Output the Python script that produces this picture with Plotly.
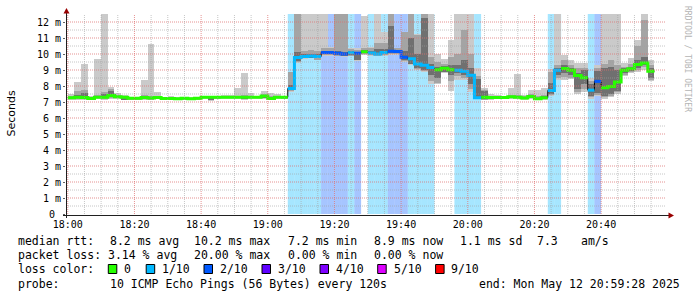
import plotly.graph_objects as go
import pandas as pd

# ---------------- data ----------------
start_time = "2025-05-12 18:00:00"
step_minutes = 2
range_start = "2025-05-12 17:59:28"
range_end = "2025-05-12 20:59:28"

median_ms = [7.27, 7.30, 7.28, 7.22, 7.30, 7.30, 7.40, 7.33, 7.30, 7.24,
             7.23, 7.28, 7.25, 7.28, 7.22, 7.22, 7.20, 7.24, 7.20, 7.24,
             7.30, 7.30, 7.30, 7.30, 7.30, 7.30, 7.30, 7.30, 7.30, 7.37,
             7.22, 7.30, 7.30, 7.85, 9.78, 9.85, 9.88, 9.84, 10.09, 10.10,
             10.05, 10.00, 10.08, 10.05, 10.14, 10.07, 10.00, 10.10, 10.17, 10.15,
             9.80, 9.70, 9.38, 9.30, 9.15, 9.02, 9.11, 9.02, 8.98, 8.92,
             8.67, 7.27, 7.30, 7.28, 7.28, 7.28, 7.33, 7.30, 7.25, 7.35,
             7.20, 7.27, 7.72, 8.98, 9.10, 8.98, 8.66, 8.52, 7.74, 8.29,
             7.89, 7.97, 8.25, 8.98, 9.08, 9.34, 9.43, 8.92, None, None]

loss_count = [0] * 33 + [1, 1, 1, 1, 1, 2, 2, 2, 2, 1, 2, 0, 1, 1, 1, 2, 2, 2,
                         1, 1, 1, 1, 0, 0, 0, 1, 1, 1, 1] + [0] * 10 + \
             [1, 1, 0, 0, 0, 0, 1, 2] + [0] * 10

# smoke bands (ms): outer (min..max), second, inner
smoke1_lo = [7.15, 7.15, 7.15, 7.10, 7.18, 7.15, 7.20, 7.20, 7.10, 7.15,
             7.14, 7.15, 7.10, 7.20, 7.14, 7.14, 7.13, 7.15, 7.12, 7.15,
             7.20, 7.08, 7.20, 7.20, 7.20, 7.20, 7.15, 7.20, 7.20, 7.20,
             7.12, 7.20, 7.20, 7.62, 9.45, 9.70, 9.72, 9.60, 9.90, 9.90,
             9.85, 9.80, 9.85, 9.55, 9.95, 9.90, 9.85, 9.90, 9.95, 9.95,
             9.50, 9.30, 9.00, 8.90, 8.10, 8.10, 8.80, 7.70, 8.40, 8.40,
             7.60, 7.20, 7.10, 7.15, 7.20, 7.20, 7.20, 7.20, 7.15, 7.20,
             7.10, 7.15, 7.40, 8.40, 8.40, 8.45, 7.50, 7.60, 7.20, 7.40,
             7.20, 7.30, 7.50, 8.60, 8.80, 8.90, 9.00, 8.30, None, None]
smoke1_hi = [7.49, 8.26, 9.36, 7.40, 9.67, 13.5, 7.95, 7.55, 7.42, 7.34,
             7.32, 8.38, 10.60, 7.63, 7.30, 7.38, 7.30, 7.32, 7.30, 7.32,
             7.40, 7.36, 7.36, 7.42, 7.42, 7.87, 8.80, 7.55, 7.40, 7.68,
             7.55, 7.50, 7.38, 8.90, 13.5, 13.5, 13.5, 13.5, 13.5, 10.45,
             13.5, 13.5, 10.40, 10.35, 12.40, 10.45, 13.5, 11.40, 13.5, 10.40,
             11.40, 13.5, 11.27, 13.5, 13.5, 9.98, 9.70, 10.90, 13.5, 13.5,
             13.5, 9.10, 7.85, 7.50, 7.45, 7.40, 7.90, 8.74, 7.45, 7.74,
             7.74, 7.90, 9.05, 13.5, 9.92, 9.64, 9.43, 9.45, 8.50, 9.30,
             13.5, 13.5, 13.5, 9.45, 9.75, 10.85, 13.5, 9.60, None, None]
smoke2_lo = [7.20, 7.20, 7.18, 7.14, 7.22, 7.20, 7.25, 7.24, 7.12, 7.18,
             7.17, 7.20, 7.14, 7.22, 7.17, 7.17, 7.15, 7.18, 7.15, 7.18,
             7.22, 7.10, 7.22, 7.22, 7.22, 7.23, 7.20, 7.22, 7.22, 7.24,
             7.15, 7.22, 7.22, 7.66, 9.50, 9.72, 9.75, 9.65, 9.95, 9.95,
             9.90, 9.85, 9.90, 9.60, 10.00, 9.95, 9.90, 9.95, 10.00, 10.00,
             9.55, 9.35, 9.05, 8.95, 8.30, 8.20, 8.85, 8.30, 8.60, 8.50,
             7.80, 7.22, 7.15, 7.20, 7.22, 7.22, 7.24, 7.24, 7.18, 7.25,
             7.14, 7.20, 7.45, 8.50, 8.55, 8.50, 7.60, 7.80, 7.30, 7.45,
             7.30, 7.40, 7.60, 8.70, 8.88, 9.00, 9.20, 8.40, None, None]
smoke2_hi = [7.38, 7.70, 7.76, 7.34, 7.42, 7.62, 7.80, 7.45, 7.36, 7.30,
             7.29, 7.42, 7.36, 7.40, 7.27, 7.30, 7.27, 7.29, 7.26, 7.29,
             7.35, 7.34, 7.34, 7.36, 7.36, 7.40, 7.45, 7.38, 7.35, 7.52,
             7.35, 7.38, 7.34, 8.85, 13.5, 10.20, 10.25, 10.20, 10.38, 10.35,
             13.5, 13.5, 10.30, 10.25, 10.40, 10.35, 10.70, 10.70, 13.5, 10.35,
             11.40, 13.5, 11.20, 13.5, 9.80, 9.50, 9.40, 9.80, 10.00, 11.50,
             10.00, 8.60, 7.75, 7.40, 7.38, 7.36, 7.45, 7.45, 7.35, 7.50,
             7.40, 7.45, 8.90, 9.30, 9.60, 9.30, 9.10, 9.10, 8.30, 9.10,
             9.40, 9.60, 9.30, 9.20, 9.40, 10.47, 12.10, 9.30, None, None]
smoke3_lo = [7.23, 7.24, 7.22, 7.18, 7.25, 7.24, 7.30, 7.28, 7.14, 7.20,
             7.19, 7.23, 7.17, 7.25, 7.19, 7.19, 7.17, 7.20, 7.17, 7.20,
             7.25, 7.12, 7.25, 7.25, 7.25, 7.25, 7.24, 7.25, 7.25, 7.28,
             7.18, 7.25, 7.25, 7.72, 9.55, 9.76, 9.78, 9.72, 10.00, 10.00,
             9.95, 9.90, 9.95, 9.65, 10.05, 10.00, 9.95, 10.00, 10.05, 10.05,
             9.62, 9.40, 9.10, 9.00, 8.70, 8.50, 8.90, 8.70, 8.80, 8.70,
             8.10, 7.25, 7.20, 7.23, 7.24, 7.24, 7.27, 7.26, 7.20, 7.28,
             7.16, 7.22, 7.50, 8.70, 8.80, 8.70, 7.80, 8.10, 7.40, 7.55,
             7.35, 7.50, 7.70, 8.80, 8.95, 9.10, 9.30, 8.50, None, None]
smoke3_hi = [7.32, 7.42, 7.55, 7.30, 7.35, 7.48, 7.68, 7.38, 7.33, 7.28,
             7.27, 7.33, 7.30, 7.33, 7.26, 7.27, 7.24, 7.27, 7.24, 7.27,
             7.33, 7.33, 7.33, 7.33, 7.33, 7.34, 7.36, 7.33, 7.33, 7.42,
             7.28, 7.33, 7.32, 8.05, 10.15, 10.00, 10.02, 10.00, 10.20, 10.20,
             10.20, 10.15, 10.20, 10.15, 10.25, 10.20, 10.30, 10.30, 11.77, 10.25,
             10.20, 11.00, 10.00, 12.25, 9.40, 9.20, 9.25, 9.30, 9.30, 9.60,
             9.10, 8.45, 7.70, 7.33, 7.33, 7.33, 7.38, 7.36, 7.30, 7.42,
             7.28, 7.35, 8.20, 9.15, 9.30, 9.10, 8.80, 9.00, 8.15, 8.95,
             9.10, 9.20, 9.00, 9.10, 9.20, 9.60, 9.80, 9.10, None, None]

x_tick_labels = ["18:00", "18:20", "18:40", "19:00", "19:20", "19:40", "20:00", "20:20", "20:40"]
y_tick_values = list(range(13))
y_tick_labels = ["0\u00a0"] + ["%d m" % v for v in range(1, 13)]

loss_levels = [0, 1, 2, 3, 4, 5, 9]
loss_labels = ["0", "1/10", "2/10", "3/10", "4/10", "5/10", "9/10"]
loss_colors = ["#26ff00", "#00b8ff", "#0059ff", "#5e00ff", "#7e00ff", "#dd00ff", "#ff0000"]

legend_rows = [
    [("median rtt:", 16), ("8.2 ms avg", 107.5), ("10.2 ms max", 192.4), ("7.2 ms min", 285.5),
     ("8.9 ms now", 371.9), ("1.1 ms sd", 458), ("7.3", 535), ("am/s", 578.6)],
    [("packet loss:", 16), ("3.14 % avg", 106.4), ("20.00 % max", 192.4), ("0.00 % min", 286),
     ("0.00 % now", 372)],
]
probe_text = "10 ICMP Echo Pings (56 Bytes) every 120s"
end_text = "end: Mon May 12 20:59:28 2025"

# ---------------- geometry helpers ----------------
W, H = 697, 297
ML, MR, MT, MB = 66, 31, 14, 83
PW, PH = W - ML - MR, H - MT - MB


def px(x):
    return (x - ML) / PW


def py(y):
    return (MT + PH - y) / PH


# time axis in minutes relative to start_time
t0 = pd.Timestamp(start_time)


def minutes(ts):
    return (pd.Timestamp(ts) - t0).total_seconds() / 60.0


n = len(median_ms)
bin_start = [step_minutes * i for i in range(n)]
bin_end = [s + step_minutes for s in bin_start]
bin_mid = [s + step_minutes / 2 for s in bin_start]
x_lo, x_hi = minutes(range_start), minutes(range_end)
x_tick_vals = [minutes(start_time[:11] + lab) for lab in x_tick_labels]

fig = go.Figure()


def add_band(lo, hi, color):
    xs, bases, heights = [], [], []
    for i in range(n):
        if lo[i] is None or hi[i] is None:
            continue
        xs.append(bin_mid[i])
        bases.append(lo[i])
        heights.append(hi[i] - lo[i])
    fig.add_trace(go.Bar(x=xs, y=heights, base=bases, width=step_minutes,
                         marker=dict(color=color, line=dict(width=0)),
                         showlegend=False, hoverinfo="skip"))


add_band(smoke1_lo, smoke1_hi, "#cacaca")
add_band(smoke2_lo, smoke2_hi, "#a4a4a4")
add_band(smoke3_lo, smoke3_hi, "#707070")


def step_xy(mask):
    xs, ys = [], []
    prev = False
    for i in range(n):
        ok = mask[i] and median_ms[i] is not None
        if ok:
            xs.append(bin_start[i]); ys.append(median_ms[i])
        elif prev:
            xs.append(bin_end[i - 1]); ys.append(median_ms[i - 1])
            xs.append(None); ys.append(None)
        prev = ok
    if prev:
        xs.append(bin_end[n - 1]); ys.append(median_ms[n - 1])
    return xs, ys


mx, my = step_xy([True] * n)
fig.add_trace(go.Scatter(x=mx, y=my, mode="lines", line=dict(color="#000000", width=1, shape="hv"),
                         showlegend=False, hoverinfo="skip"))

for lvl, col in zip(loss_levels, loss_colors):
    mask = [c == lvl for c in loss_count]
    if not any(mask):
        continue
    xs, ys = step_xy(mask)
    fig.add_trace(go.Scatter(x=xs, y=ys, mode="lines", line=dict(color=col, width=3, shape="hv"),
                             showlegend=False, hoverinfo="skip"))

shapes = []


def rgba(hexcol, a):
    h = hexcol.lstrip("#")
    return "rgba(%d,%d,%d,%.2f)" % (int(h[0:2], 16), int(h[2:4], 16), int(h[4:6], 16), a)


# loss background bands
for i in range(n):
    if loss_count[i] > 0 and median_ms[i] is not None:
        col = loss_colors[loss_levels.index(loss_count[i])]
        shapes.append(dict(type="rect", xref="x", yref="paper", x0=bin_start[i], x1=bin_end[i],
                           y0=0, y1=1, fillcolor=rgba(col, 0.35), line=dict(width=0), layer="below"))

# grid (drawn above, like rrdtool)
MAJ = "rgba(220,110,110,0.75)"
MIN = "rgba(160,160,160,0.6)"
for k in range(1, 25):
    v = k * 0.5
    shapes.append(dict(type="line", xref="paper", yref="y", x0=0, x1=1, y0=v, y1=v,
                       line=dict(color=MAJ if k % 2 == 0 else MIN, width=1, dash="1px,1px"),
                       layer="above"))
gm = 0
while gm <= x_hi:
    major = gm % 20 == 0
    shapes.append(dict(type="line", xref="x", yref="paper", x0=gm, x1=gm, y0=0, y1=1,
                       line=dict(color=MAJ if major else MIN, width=1, dash="1px,1px"),
                       layer="above"))
    gm += 5

# axis lines & arrows
AX = "#202020"
ARR = "#990000"
shapes.append(dict(type="line", xref="paper", yref="paper", x0=px(63), x1=px(669), y0=py(215.5), y1=py(215.5),
                   line=dict(color=AX, width=1), layer="above"))
shapes.append(dict(type="line", xref="paper", yref="paper", x0=px(66.5), x1=px(66.5), y0=py(218), y1=py(12),
                   line=dict(color=AX, width=1), layer="above"))
shapes.append(dict(type="path", xref="paper", yref="paper",
                   path="M %f %f L %f %f L %f %f Z" % (px(668.5), py(212.5), px(674), py(215.5), px(668.5), py(218.5)),
                   fillcolor=ARR, line=dict(color=ARR, width=0), layer="above"))
shapes.append(dict(type="path", xref="paper", yref="paper",
                   path="M %f %f L %f %f L %f %f Z" % (px(63.5), py(13.5), px(66.5), py(8), px(69.5), py(13.5)),
                   fillcolor=ARR, line=dict(color=ARR, width=0), layer="above"))

annotations = []
MONO = "DejaVu Sans Mono"
LF = dict(family=MONO, size=11.5, color="#000000")


def ann(text, x, y, xanchor="left", **kw):
    d = dict(text=text, xref="paper", yref="paper", x=px(x), y=py(y), xanchor=xanchor, yanchor="middle",
             showarrow=False, font=kw.pop("font", LF))
    d.update(kw)
    annotations.append(d)


row_y = [241, 255, 269, 284]
for r, items in enumerate(legend_rows):
    for text, x in items:
        ann(text, x, row_y[r])
ann("loss color:", 16, row_y[2])
sw_x = [108.3, 146.2, 204, 262, 320, 377.7, 435.6]
lb_x = [122, 160, 218, 276, 334, 391.5, 449.4]
for lab, col, sx, lx in zip(loss_labels, loss_colors, sw_x, lb_x):
    shapes.append(dict(type="rect", xref="paper", yref="paper", x0=px(sx), x1=px(sx + 8.5),
                       y0=py(row_y[2] + 4.5), y1=py(row_y[2] - 4.5), fillcolor=col,
                       line=dict(color="#000000", width=1), layer="above"))
    ann(lab, lx, row_y[2])
ann("probe:", 16, row_y[3])
ann(probe_text, 108, row_y[3])
ann(end_text, 681.5, row_y[3], xanchor="right")

ann("Seconds", 11, 113.5, xanchor="center", textangle=-90,
    font=dict(family="DejaVu Sans", size=11, color="#000000"))
ann("RRDTOOL / TOBI OETIKER", 687, 59, xanchor="center", textangle=90,
    font=dict(family=MONO, size=8, color="#b4b4b4"))

fig.update_layout(
    width=W, height=H,
    margin=dict(l=ML, r=MR, t=MT, b=MB, pad=0),
    paper_bgcolor="#ffffff", plot_bgcolor="#ffffff",
    barmode="overlay", bargap=0,
    showlegend=False,
    shapes=shapes, annotations=annotations,
    xaxis=dict(range=[x_lo, x_hi], tickmode="array",
               tickvals=x_tick_vals, ticktext=x_tick_labels, showgrid=False, zeroline=False,
               showline=False, ticks="", ticklabelstandoff=3,
               tickfont=dict(family=MONO, size=10, color="#000000"),
               fixedrange=True),
    yaxis=dict(range=[0, 12.5], tickmode="array", tickvals=y_tick_values, ticktext=y_tick_labels,
               showgrid=False, zeroline=False, showline=False, ticks="outside", ticklen=2,
               tickcolor="#606060", tickfont=dict(family=MONO, size=10, color="#000000"),
               fixedrange=True),
)

fig.write_html("out.html")
